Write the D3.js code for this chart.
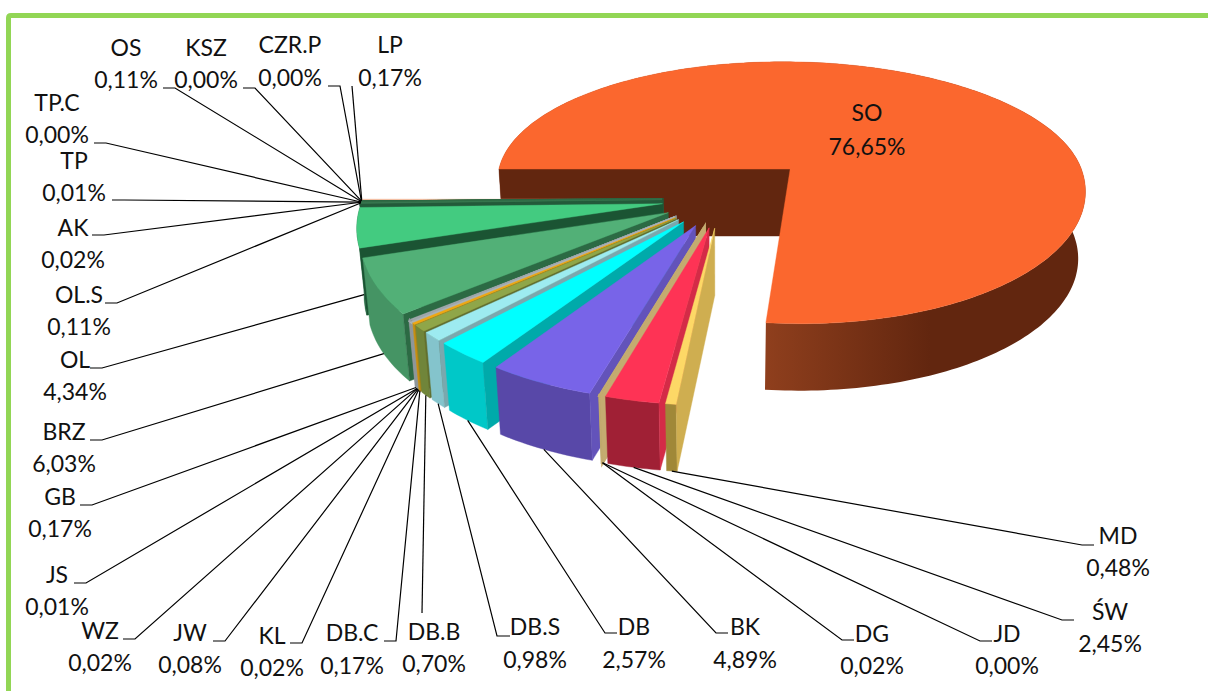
<!DOCTYPE html>
<html>
<head>
<meta charset="utf-8">
<script src="https://cdnjs.cloudflare.com/ajax/libs/d3/7.8.5/d3.min.js"></script>
<style>
  html, body { margin: 0; padding: 0; background: #fff; }
  svg { display: block; }
  text { font-family: Lato, "Open Sans", sans-serif; font-size: 23px; fill: #111; text-anchor: middle; }
</style>
</head>
<body>
<div id="chart"></div>
<script>
// Chart data, clockwise from the left edge of the big slice
var categories = ["SO", "MD", "ŚW", "JD", "DG", "BK", "DB", "DB.S", "DB.B", "DB.C", "KL", "JW", "WZ", "JS", "GB", "BRZ", "OL", "OL.S", "AK", "TP", "TP.C", "OS", "KSZ", "CZR.P", "LP"];
var shares = [76.65, 0.48, 2.45, 0.00, 0.02, 4.89, 2.57, 0.98, 0.70, 0.17, 0.02, 0.08, 0.02, 0.01, 0.17, 6.03, 4.34, 0.11, 0.02, 0.01, 0.00, 0.11, 0.00, 0.00, 0.17];

// Face colours: top, outer wall, cut wall
var topColors = ["#fb672e", "#fdd866", "#fe3355", "#c4ab70", "#c4ab70", "#7864e8", "#00ffff", "#9debf0", "#8fa649", "#f0a810", "#aab2b6", "#b4bcc0", "#9ea6aa", "#aab2b6", "#a4acb0", "#52b077", "#43cb80", "#3a7a52", "#2f6b45", "#2f6b45", "#2f6b45", "#5c8a62", "#5c8a62", "#5c8a62", "#f0b090"];
var wallColors = ["#62260f", "#a08838", "#a02035", "#b8a468", "#b8a468", "#5848a8", "#00c8c8", "#84c4cc", "#70853a", "#c89010", "#8f979b", "#8f979b", "#8f979b", "#8f979b", "#8f979b", "#459464", "#1f6b40", "#1f5a38", "#1f5a38", "#1f5a38", "#1f5a38", "#1f5a38", "#1f5a38", "#1f5a38", "#1f5a38"];
var cutColors = ["#62260f", "#cfae50", "#d42b47", "#c4ab70", "#c4ab70", "#6353ba", "#00aaaa", "#7aa8ae", "#606f30", "#a88010", "#8f979b", "#8f979b", "#8f979b", "#8f979b", "#8f979b", "#2c6a44", "#1b5433", "#235a3a", "#235a3a", "#235a3a", "#235a3a", "#235a3a", "#235a3a", "#235a3a", "#235a3a"];

// Label layout: centre x, first line y, leader points from the text to the slice
var labelPlacement = {
  "SO":    {x: 867,  y: 113, dy: 34, leader: null},
  "MD":    {x: 1118, y: 536, dy: 32, leader: [[1094, 545], [1082, 545]]},
  "ŚW":    {x: 1110, y: 612, dy: 32, leader: [[1074, 620], [1062, 620]]},
  "JD":    {x: 1007, y: 634, dy: 32, leader: [[992, 641], [980, 641]]},
  "DG":    {x: 872,  y: 634, dy: 32, leader: [[854, 640], [842, 640]]},
  "BK":    {x: 745,  y: 627, dy: 33, leader: [[728, 633], [716, 633]]},
  "DB":    {x: 634,  y: 627, dy: 33, leader: [[617, 633], [605, 633]]},
  "DB.S":  {x: 535,  y: 627, dy: 33, leader: [[510, 636], [497, 636]]},
  "DB.B":  {x: 434,  y: 632, dy: 32, leader: [[422, 613]]},
  "DB.C":  {x: 352,  y: 633, dy: 33, leader: [[384, 641], [396, 641]]},
  "KL":    {x: 272,  y: 636, dy: 32, leader: [[290, 643], [302, 643]]},
  "JW":    {x: 190,  y: 633, dy: 32, leader: [[213, 641], [225, 641]]},
  "WZ":    {x: 100,  y: 631, dy: 32, leader: [[123, 639], [135, 639]]},
  "JS":    {x: 57,   y: 575, dy: 32, leader: [[74, 583], [86, 583]]},
  "GB":    {x: 60,   y: 497, dy: 32, leader: [[80, 505], [92, 505]]},
  "BRZ":   {x: 64,   y: 432, dy: 32, leader: [[90, 440], [102, 440]]},
  "OL":    {x: 75,   y: 360, dy: 32, leader: [[90, 368], [102, 368]]},
  "OL.S":  {x: 79,   y: 295, dy: 32, leader: [[105, 303], [117, 303]]},
  "AK":    {x: 73,   y: 228, dy: 32, leader: [[92, 235], [104, 235]]},
  "TP":    {x: 74,   y: 161, dy: 32, leader: [[112, 200], [124, 200]]},
  "TP.C":  {x: 57,   y: 103, dy: 32, leader: [[94, 143], [106, 143]]},
  "OS":    {x: 126,  y: 48,  dy: 32, leader: [[163, 88], [175, 88]]},
  "KSZ":   {x: 206,  y: 48,  dy: 32, leader: [[243, 88], [255, 88]]},
  "CZR.P": {x: 290,  y: 45,  dy: 33, leader: [[328, 86], [340, 86]]},
  "LP":    {x: 390,  y: 45,  dy: 33, leader: [[352, 86]]}
};

// Pie camera: disc of radius 1 seen from above with some perspective
var width = 1208, height = 691;
var centerX = 722, centerY = 199;
var scale = 300, tilt = 0.478, perspective = 0.14;
var wallHeight = 67;
var explode = 0.2;
// The big slice is pulled out further, and its back is flatter than its front
var soOffset = [0.234, -0.215], soBack = 0.89, soFront = 0.99;

function project(X, Y, z) {
  var d = 1 - perspective * Y;
  var shrink = 1 - 0.02 * z / wallHeight;
  return [centerX + scale * X / d * shrink, centerY + scale * tilt * Y / d + z];
}

var svg = d3.select("#chart").append("svg").attr("width", width).attr("height", height);

// Outer frame
svg.append("path")
  .attr("d", "M8.5," + (height + 5) + "V18Q8.5,15.5 11,15.5H" + (width + 5))
  .attr("fill", "none").attr("stroke", "#92d655").attr("stroke-width", 5);

var grad = svg.append("defs").append("linearGradient")
  .attr("id", "soWall").attr("gradientUnits", "userSpaceOnUse")
  .attr("x1", 765).attr("x2", 930).attr("y1", 0).attr("y2", 0);
grad.append("stop").attr("offset", 0).attr("stop-color", "#8f3f1d");
grad.append("stop").attr("offset", 1).attr("stop-color", "#62260f");

var pie = d3.pie().sort(null).value(d => d)
  .startAngle(270 * Math.PI / 180).endAngle(630 * Math.PI / 180);
var arcs = pie(shares);

var line = d3.line().curve(d3.curveLinearClosed);

// A point of a slice: r along the angle a, from the slice's own exploded apex
function slicePoint(i, a, r, z) {
  var mid = (arcs[i].startAngle + arcs[i].endAngle) / 2;
  if (i == 0) {
    var c = -Math.cos(a);
    return project(soOffset[0] + r * Math.sin(a), soOffset[1] + r * c * (c < 0 ? soBack : soFront), z);
  }
  return project(explode * Math.sin(mid) + r * Math.sin(a), -explode * Math.cos(mid) - r * Math.cos(a), z);
}

function drawSlice(i) {
  var a0 = arcs[i].startAngle, a1 = arcs[i].endAngle;
  var steps = Math.max(1, Math.ceil((a1 - a0) / 0.02));
  var angles = d3.range(steps + 1).map(k => a0 + (a1 - a0) * k / steps);
  var g = svg.append("g").attr("class", "slice").datum(categories[i]);

  // Tiny slices keep a visible sliver through their stroke
  var sliver = shares[i] < 0.05 && shares[i] > 0 ? 3 : 0.4;

  // Outer wall
  var wall = angles.map(a => slicePoint(i, a, 1, 0))
    .concat(angles.slice().reverse().map(a => slicePoint(i, a, 1, wallHeight)));
  g.append("path").attr("d", line(wall))
    .attr("fill", i == 0 ? "url(#soWall)" : wallColors[i])
    .attr("stroke", i == 0 ? "none" : wallColors[i]).attr("stroke-width", sliver);

  // Cut wall on the front-facing edge
  var cut = [slicePoint(i, a0, 0, 0), slicePoint(i, a0, 1, 0), slicePoint(i, a0, 1, wallHeight), slicePoint(i, a0, 0, wallHeight)];
  g.append("path").attr("d", line(cut))
    .attr("fill", cutColors[i])
    .attr("stroke", cutColors[i]).attr("stroke-width", sliver);

  // Top face
  var top = [slicePoint(i, a0, 0, 0)].concat(angles.map(a => slicePoint(i, a, 1, 0)));
  g.append("path").attr("d", line(top))
    .attr("fill", topColors[i])
    .attr("stroke", topColors[i]).attr("stroke-width", sliver);
}

// Back to front: big slice first, then from the left edge down to the front
drawSlice(0);
d3.range(categories.length - 1, 0, -1).forEach(drawSlice);

// Leaders run to the middle of the outer wall: top edge for the slices at the back
categories.forEach(function(name, i) {
  var place = labelPlacement[name];
  if (!place.leader) return;
  var mid = (arcs[i].startAngle + arcs[i].endAngle) / 2;
  var atBack = i > 16;
  var end = slicePoint(i, mid, 1, atBack ? 0 : wallHeight);
  svg.append("path")
    .attr("d", d3.line()(place.leader.concat([end])))
    .attr("fill", "none").attr("stroke", "#000").attr("stroke-width", 1.2);
});

// Labels: name on top, share with a decimal comma below
categories.forEach(function(name, i) {
  var place = labelPlacement[name];
  svg.append("text").attr("x", place.x).attr("y", place.y + 8).text(name);
  svg.append("text").attr("x", place.x).attr("y", place.y + place.dy + 8)
    .text(shares[i].toFixed(2).replace(".", ",") + "%");
});
</script>
</body>
</html>
